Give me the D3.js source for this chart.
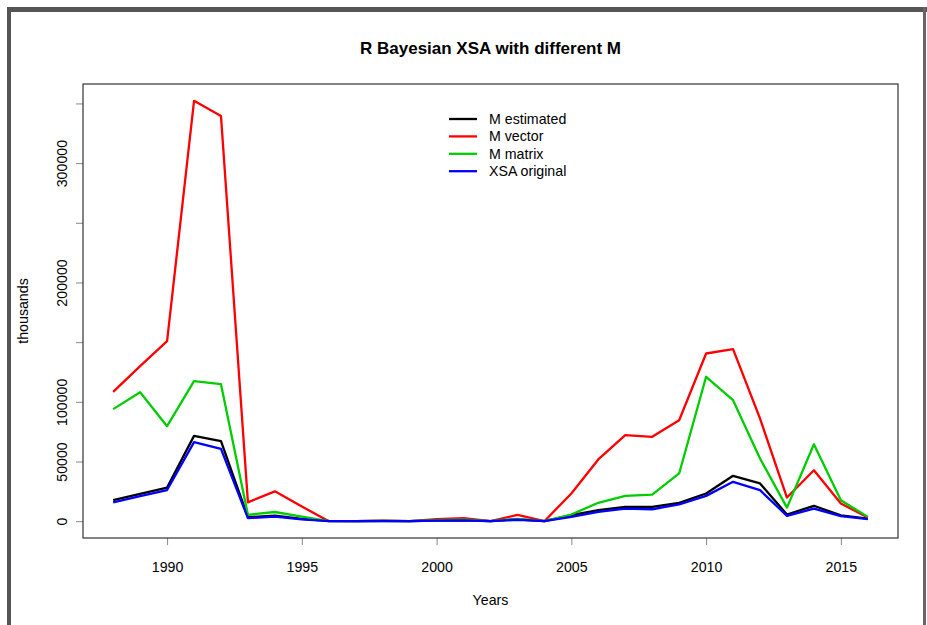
<!DOCTYPE html>
<html>
<head>
<meta charset="utf-8">
<script src="https://cdn.jsdelivr.net/npm/d3@7"></script>
<style>
  html, body { margin: 0; padding: 0; background: #fff; }
  svg { display: block; font-family: "Liberation Sans", Arial, sans-serif; }
</style>
</head>
<body>
<svg id="chart" width="927" height="625"></svg>
<script>
// Stock size estimates by year (thousands)
const years = d3.range(1988, 2017);

const mEstimated = [17600, 22900, 28200, 71500, 67000, 3300, 4700, 2000, 200, 100,
  200, 0, 500, 800, 0, 1500, 0, 5000, 9200, 12000,
  12000, 15400, 23200, 38000, 31600, 5600, 12900, 4800, 2200];

const mVector = [108400, 129900, 150800, 352200, 339400, 15800, 25000, 12300, 0, 0,
  500, 0, 1700, 2500, 0, 5300, 0, 23200, 51700, 72100,
  70700, 84600, 140500, 144100, 86000, 19800, 42700, 14800, 3100];

const mMatrix = [93900, 108100, 79600, 117300, 114800, 5300, 7700, 3900, 0, 0,
  300, 0, 800, 1200, 0, 2000, 0, 5600, 15400, 21200,
  22300, 40000, 121000, 101400, 52500, 11400, 64500, 17600, 3600];

const xsaOriginal = [15800, 21000, 26100, 66200, 60600, 2500, 3900, 1500, 0, 0,
  100, 0, 400, 600, 0, 1200, 0, 3600, 7800, 10600,
  10000, 14000, 21200, 33000, 26000, 4500, 10600, 4200, 1700];

const seriesNames = ["M estimated", "M vector", "M matrix", "XSA original"];
const seriesColors = ["#000000", "#ff0000", "#00cd00", "#0000ff"];
const seriesValues = [mEstimated, mVector, mMatrix, xsaOriginal];

const xTickValues = [1990, 1995, 2000, 2005, 2010, 2015];
const yTickValues = [0, 50000, 100000, 150000, 200000, 250000, 300000, 350000];
const yTickLabels = ["0", "50000", "100000", "", "200000", "", "300000", ""];

const svg = d3.select("#chart");
const box = { left: 83, right: 898, top: 84, bottom: 538 };
const fs = 14.2;

// page frame
svg.append("rect").attr("x", 7).attr("y", 7).attr("width", 920).attr("height", 5).attr("fill", "#555");
svg.append("rect").attr("x", 7).attr("y", 7).attr("width", 4).attr("height", 618).attr("fill", "#555");
svg.append("rect").attr("x", 923).attr("y", 7).attr("width", 3).attr("height", 618).attr("fill", "#666");

// R-style 4% padding on data range
function padded(lo, hi) { const d = (hi - lo) * 0.04; return [lo - d, hi + d]; }
const allVals = seriesValues.flat();
const x = d3.scaleLinear().domain(padded(d3.min(years), d3.max(years))).range([box.left, box.right]);
const y = d3.scaleLinear().domain(padded(d3.min(allVals), d3.max(allVals))).range([box.bottom, box.top]);

// x axis
const xAxis = svg.append("g").attr("transform", `translate(0,${box.bottom})`)
  .call(d3.axisBottom(x).tickValues(xTickValues).tickFormat(d3.format("d")).tickSize(7).tickPadding(17));
xAxis.select(".domain").remove();
xAxis.selectAll(".tick line").attr("stroke", "#888").attr("stroke-width", 1);
xAxis.selectAll(".tick text").attr("font-size", fs).attr("fill", "#000")
  .attr("font-family", "Liberation Sans, Arial, sans-serif");

// y axis with rotated labels
const yAxis = svg.append("g").attr("transform", `translate(${box.left},0)`)
  .call(d3.axisLeft(y).tickValues(yTickValues).tickFormat((d, i) => yTickLabels[i]).tickSize(7));
yAxis.select(".domain").remove();
yAxis.selectAll(".tick line").attr("stroke", "#888").attr("stroke-width", 1);
yAxis.selectAll(".tick text")
  .attr("font-size", fs).attr("fill", "#000")
  .attr("font-family", "Liberation Sans, Arial, sans-serif")
  .attr("x", null).attr("dy", null)
  .attr("text-anchor", "middle")
  .attr("transform", "translate(-16,0) rotate(-90)");

// series lines
const line = d3.line().x((d, i) => x(years[i])).y(d => y(d));
seriesValues.forEach((vals, k) => {
  svg.append("path").datum(vals)
    .attr("d", line)
    .attr("fill", "none")
    .attr("stroke", seriesColors[k])
    .attr("stroke-width", 2.3)
    .attr("stroke-linejoin", "round");
});

// plot box
svg.append("rect")
  .attr("x", box.left).attr("y", box.top)
  .attr("width", box.right - box.left).attr("height", box.bottom - box.top)
  .attr("fill", "none").attr("stroke", "#333").attr("stroke-width", 1.2);

// title and axis titles
svg.append("text").attr("x", (box.left + box.right) / 2).attr("y", 54)
  .attr("text-anchor", "middle").attr("font-size", 17).attr("font-weight", "bold")
  .text("R Bayesian XSA with different M");
svg.append("text").attr("x", (box.left + box.right) / 2).attr("y", 605)
  .attr("text-anchor", "middle").attr("font-size", fs).text("Years");
svg.append("text")
  .attr("transform", `translate(28,${(box.top + box.bottom) / 2}) rotate(-90)`)
  .attr("text-anchor", "middle").attr("font-size", fs).text("thousands");

// legend
const legend = svg.append("g");
seriesNames.forEach((name, k) => {
  const ly = 119 + k * 17.4;
  legend.append("line").attr("x1", 449).attr("x2", 477).attr("y1", ly).attr("y2", ly)
    .attr("stroke", seriesColors[k]).attr("stroke-width", 2.3);
  legend.append("text").attr("x", 489).attr("y", ly + 5)
    .attr("font-size", fs).text(name);
});
</script>
</body>
</html>
